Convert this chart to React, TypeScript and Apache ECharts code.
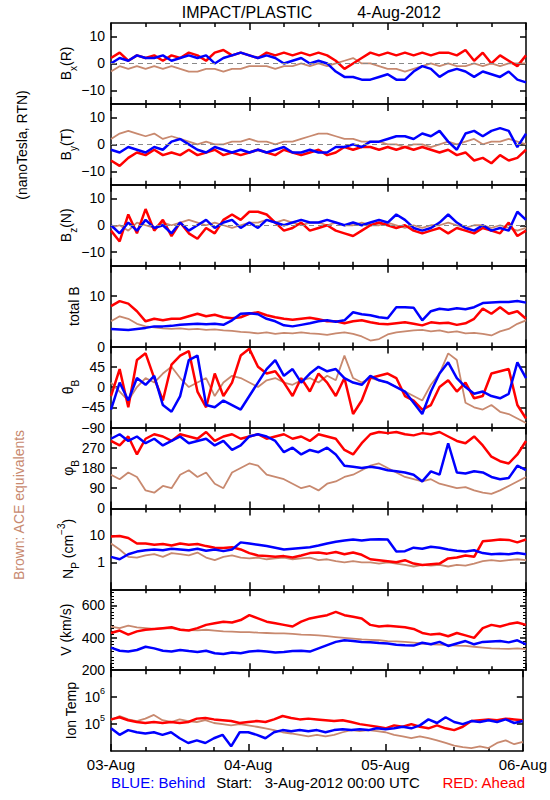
import React, { useEffect, useRef } from "react";
import * as echarts from "echarts";

// ---------- DATA ----------
const HOURS = [0, 1.5, 3, 4.5, 6, 7.5, 9, 10.5, 12, 13.5, 15, 16.5, 18, 19.5, 21, 22.5, 24, 25.5, 27, 28.5, 30, 31.5, 33, 34.5, 36, 37.5, 39, 40.5, 42, 43.5, 45, 46.5, 48, 49.5, 51, 52.5, 54, 55.5, 57, 58.5, 60, 61.5, 63, 64.5, 66, 67.5, 69, 70.5, 72];
const DAY_TICKS = [0, 24, 48, 72];
const DAY_LABELS = ["03-Aug", "04-Aug", "05-Aug", "06-Aug"];

const BX_RED = [2, 4, 1, 3, 2, 3, 1, 3, 2, 4, 3, 1, 4, 5, 3, 4, 3, 2, 4, 3, 4, 3, 4, 3, 4, 3, 1, -2, 0, 2, 4, 3, 4, 3, 4, 3, 4, 3, 4, 4, 3, 5, 1, 4, 0, 3, 1, -1, 3];
const BX_BLUE = [0, 2, 1, 3, 2, 2, 3, 1, 2, 3, 2, 3, 0, 2, 3, 4, 3, 2, 3, 2, 0, 1, 2, 0, 1, 0, -3, -5, -5, -6, -6, -5, -4, -6, -6, -3, -1, -2, -5, -3, -2, -3, -5, -3, -4, -5, -3, -6, -7];
const BX_BROWN = [-3, -1, -2, -1, -2, -1, -2, -1, -2, -3, -3, -2, -2, -3, -2, -2, -1, -1, -1, -2, -1, -1, 0, -1, 0, -1, 0, 1, 2, 0, 0, -1, -2, -2, -3, -2, -1, 0, -1, 0, -1, -1, 0, -1, 0, -1, 0, 0, 0];

const BY_RED = [-6, -8, -5, -3, -4, -2, -4, -3, -4, -2, -4, -3, -2, -4, -3, -4, -3, -2, -3, -4, -2, -3, -4, -3, -2, -4, -3, -1, -2, -1, -1, -2, -1, -2, -1, -2, -1, -2, -3, -2, -4, -3, -6, -5, -7, -4, -6, -5, -2];
const BY_BLUE = [-2, -3, -1, -2, -3, -1, -2, 1, 2, 0, -2, -3, -1, -2, -3, -2, -3, -2, -3, -2, -1, -3, -3, -2, -3, -3, -1, -1, 0, -1, 1, 1, 2, 3, 3, 2, 4, 3, 5, 1, -2, 4, 5, 3, 5, 6, 5, -1, 4];
const BY_BROWN = [2, 4, 5, 4, 3, 4, 2, 3, 2, 1, 0, 1, 0, 0, 1, 1, 2, 1, 1, 0, 1, 1, 2, 3, 4, 4, 3, 2, 2, 1, 1, 1, 0, 0, -1, 0, 0, -1, 0, 1, 0, 1, 2, 0, 1, 1, 2, 1, 0];

const BZ_RED = [-2, -6, 4, -3, 6, -2, 2, -4, 1, -3, -5, -1, -3, 2, 4, 2, 5, 5, 4, 1, -2, -1, 1, -2, -1, 0, -2, -3, -4, -2, 0, 1, 0, -1, 0, -2, -3, -2, -1, -3, -1, -2, -3, -1, -2, -3, 1, -4, -2];
const BZ_BLUE = [0, -3, 1, -2, 2, -1, 0, -3, 1, -2, 0, 2, -1, 1, 2, -1, 1, -1, 2, 1, 0, 1, 2, 1, 1, 2, 1, 0, 1, 0, 1, 2, 1, 4, 2, -1, -2, -1, 1, 4, 1, -1, -2, 0, -2, -1, -2, 5, 2];
const BZ_BROWN = [-1, 0, -2, 1, 0, -1, 1, 0, 1, 2, 1, 0, 1, 0, -1, 0, 1, 1, 2, 1, 2, 1, 0, 1, 1, 0, 1, 0, 0, 1, 0, 0, 1, 0, -1, 0, -1, 0, 0, 1, 0, -1, 0, 0, -1, 0, -1, -2, -1];

const BT_RED = [8, 9, 8.5, 7, 5, 5.5, 5.2, 5.5, 5.5, 6, 6.5, 6, 6.3, 5.8, 5.6, 5.8, 6.5, 6.8, 6.2, 5.8, 5.5, 5.3, 5.5, 5.7, 5.4, 5, 5, 4.6, 5, 5.2, 4.8, 4.5, 4.4, 4.6, 4.8, 4.5, 4.2, 4.8, 4.6, 4.7, 4.3, 4.6, 5.5, 7.5, 6.5, 7.8, 6.5, 7, 5.5];
const BT_BLUE = [3.5, 3.4, 3.3, 3.5, 3.7, 4, 4, 4.1, 4.3, 4.4, 4.5, 4.4, 4.5, 4.3, 5.2, 6.5, 6.6, 6.4, 5.5, 5, 4.2, 4, 4.3, 4.6, 5, 5.2, 4.9, 5.2, 6.8, 6.4, 6.2, 5.8, 5.6, 7.8, 7.8, 7.7, 5.2, 7, 7.5, 7.3, 7.6, 7.4, 7.8, 8.6, 8.7, 8.8, 8.8, 9, 8.7];
const BT_BROWN = [5, 6, 5.5, 4.5, 4, 3.8, 3.6, 3.5, 3.6, 3.4, 3.5, 3.3, 3.4, 3.2, 3.1, 2.9, 2.8, 2.6, 2.8, 2.5, 2.7, 2.6, 2.8, 2.6, 2.5, 2.3, 2.6, 2.8, 2.5, 2, 1.2, 1.5, 2.4, 2.8, 3, 3.2, 3.3, 3, 3.2, 2.8, 3, 2.6, 2.7, 2.5, 2.2, 3, 3.5, 4.5, 5.2];

const TH_RED = [-20, 40, -45, 60, 75, 20, -30, 50, 70, 80, -10, -45, 30, -20, 10, 70, 85, 45, 30, 35, 10, -20, 20, -10, 30, 10, -20, 20, -60, -30, 20, 25, 30, 20, -20, -30, -50, -40, 0, 15, -10, 10, -25, -20, 30, 35, 40, -40, -70];
const TH_BLUE = [-50, 10, -30, 20, 5, 25, -40, -55, -20, 60, 70, -40, -45, -30, -40, -50, -20, 10, 40, 60, 25, 40, 10, 30, 45, 35, 40, 20, 10, 5, 25, 15, 10, 0, -10, -35, -60, -10, 30, 55, 20, 0, -15, -10, -20, -25, -15, 55, 20];
const TH_BROWN = [10, -10, -30, 0, 20, 10, 30, 45, 20, 0, 10, 20, -20, 10, 25, 20, 10, 0, 15, 20, 10, 5, 15, 20, 10, 25, 15, 70, 20, 10, 20, 15, 10, 0, -10, -20, -30, 5, 30, 75, 60, -35, -45, -50, -40, -55, -60, -70, -80];

const PH_RED = [300, 280, 320, 240, 310, 330, 320, 300, 330, 320, 310, 340, 300, 320, 330, 310, 320, 330, 310, 320, 330, 310, 320, 300, 330, 320, 310, 260, 240, 290, 330, 340, 335, 340, 330, 325, 335, 330, 340, 320, 300, 290, 320, 280, 230, 210, 200, 240, 300];
const PH_BLUE = [310, 330, 300, 320, 290, 310, 280, 300, 320, 290, 300, 310, 280, 300, 260, 280, 320, 330, 320, 300, 250, 270, 240, 260, 250, 270, 240, 190, 185, 180, 185, 180, 170, 165, 160, 150, 120, 165, 150, 290, 160, 155, 165, 160, 140, 130, 135, 190, 170];
const PH_BROWN = [150, 130, 160, 140, 80, 70, 100, 90, 150, 170, 140, 160, 110, 90, 160, 180, 200, 190, 150, 140, 130, 110, 90, 100, 80, 110, 120, 140, 150, 170, 190, 200, 180, 160, 140, 130, 120, 130, 110, 100, 90, 95, 80, 70, 65, 80, 100, 120, 140];

const NP_RED = [9, 9.5, 8, 5, 5, 4.5, 4.8, 4.2, 5, 4.5, 4.8, 4, 3.5, 3.4, 3.6, 3, 2.2, 1.8, 1.7, 1.6, 1.7, 1.5, 1.8, 2.2, 2.3, 2.1, 2.4, 2, 2.3, 1.9, 1.3, 1.2, 1.1, 1, 1.2, 0.9, 0.8, 0.85, 0.9, 1.4, 1.5, 1.8, 1.6, 6, 6.5, 7, 6.8, 5.5, 7];
const NP_BLUE = [1.6, 1.3, 2, 2.5, 2.8, 3, 2.8, 3.2, 3, 2.8, 3.2, 2.7, 3, 2.6, 3, 5.5, 5, 4.5, 4, 3.5, 3, 3.2, 3.4, 3.6, 4.2, 5, 5.8, 6.5, 7, 6.5, 7, 7.2, 7, 2.5, 2.6, 3.5, 3.2, 3.8, 3.5, 3, 2.7, 2.5, 2.8, 2.2, 2, 2.1, 2, 2.2, 2];
const NP_BROWN = [5, 3, 1.6, 1.5, 1.8, 2, 1.6, 2.2, 2, 1.8, 2.3, 1.5, 1.2, 1.6, 1.8, 1.5, 1.4, 1.5, 1.3, 1.4, 1.5, 1.3, 1.4, 1.5, 1.2, 1.3, 1.1, 1, 1.1, 1, 1, 0.9, 1, 0.9, 0.8, 0.7, 0.8, 0.75, 0.8, 0.7, 0.8, 0.75, 0.9, 1.1, 1.2, 1.1, 1.2, 1.3, 1.2];

const V_RED = [430, 445, 420, 440, 450, 455, 460, 465, 450, 445, 460, 480, 490, 500, 495, 510, 540, 520, 500, 490, 480, 470, 500, 520, 530, 540, 560, 540, 530, 520, 480, 470, 475, 470, 465, 455, 430, 420, 425, 410, 430, 415, 400, 460, 480, 470, 485, 495, 480];
const V_BLUE = [340, 320, 315, 325, 345, 335, 320, 315, 325, 318, 312, 320, 305, 300, 310, 305, 315, 320, 315, 310, 312, 318, 320, 315, 335, 355, 375, 385, 380, 375, 372, 368, 365, 358, 354, 352, 370, 360, 375, 350, 365, 380, 360, 375, 378, 380, 372, 385, 360];
const V_BROWN = [470, 460, 475, 465, 460, 455, 458, 460, 452, 448, 446, 450, 445, 440, 438, 435, 435, 432, 430, 428, 428, 425, 420, 418, 415, 410, 405, 400, 395, 390, 388, 385, 380, 378, 375, 370, 365, 360, 358, 355, 352, 350, 345, 340, 335, 333, 332, 335, 330];

const T_RED = [1.5e5, 1.8e5, 1.4e5, 1.2e5, 1.1e5, 1.2e5, 1.1e5, 1.2e5, 1.1e5, 1.2e5, 1.6e5, 1.7e5, 1.5e5, 1.4e5, 1.3e5, 1.1e5, 1.2e5, 1.3e5, 1.2e5, 1.5e5, 2e5, 1.7e5, 1.5e5, 1.6e5, 1.5e5, 1.4e5, 1.3e5, 1.4e5, 1.2e5, 1e5, 9e4, 8e4, 7e4, 9e4, 8e4, 1e5, 8e4, 7e4, 9e4, 7e4, 6e4, 8e4, 1.3e5, 1.4e5, 1.5e5, 1.4e5, 1.6e5, 1.5e5, 1.4e5];
const T_BLUE = [7e4, 4e4, 6e4, 5e4, 4.5e4, 5e4, 4e4, 5e4, 3e4, 2e4, 2.5e4, 2e4, 3e4, 4e4, 1.5e4, 5e4, 5e4, 4e4, 3e4, 5e4, 6e4, 5.5e4, 6e4, 5.5e4, 6e4, 5e4, 6e4, 6.5e4, 6e4, 6.5e4, 6e4, 7e4, 6.5e4, 7e4, 8e4, 7e4, 9e4, 1.5e5, 1.1e5, 1.8e5, 1.2e5, 1e5, 1.3e5, 1.2e5, 1.4e5, 1.2e5, 1.5e5, 1.1e5, 1.3e5];
const T_BROWN = [1.4e5, 2e5, 1.5e5, 1.3e5, 1.6e5, 2.2e5, 1.4e5, 1.2e5, 1.5e5, 1.3e5, 1.2e5, 1.4e5, 1.1e5, 1e5, 9e4, 1e5, 9e4, 8e4, 7e4, 6e4, 5e4, 4.5e4, 4e4, 3.5e4, 4e4, 3.5e4, 4e4, 5e4, 6e4, 5.5e4, 6e4, 5.5e4, 5e4, 4e4, 3.5e4, 3e4, 3.5e4, 3e4, 2.5e4, 2e4, 1.6e4, 1.4e4, 1.3e4, 1.5e4, 1.3e4, 2e4, 2.5e4, 1.8e4, 2.2e4];

// ---------- STYLE ----------
const FONT = "'Liberation Sans', Arial, sans-serif";
const RED = "#ff0000";
const BLUE = "#0000ff";
const BROWN = "#c8896f";
const GRID_LEFT = 111;
const GRID_RIGHT = 24;
const GRID_TOP = 23;
const PANEL_H = 80.9;

type Panel = {
  red: number[]; blue: number[]; brown: number[];
  log?: boolean; min: number; max: number;
  labels: number[]; ticks: number[]; zero?: boolean; interval?: number; minor?: boolean;
  name: string; nameX: number; sup?: boolean;
};

const PANELS: Panel[] = [
  { red: BX_RED, blue: BX_BLUE, brown: BX_BROWN, min: -15, max: 15, labels: [-10, 0, 10], ticks: [-10, 0, 10], zero: true, name: "{n|B}{s|x}{n|(R)}", nameX: 66 },
  { red: BY_RED, blue: BY_BLUE, brown: BY_BROWN, min: -15, max: 15, labels: [-10, 0, 10], ticks: [-10, 0, 10], zero: true, name: "{n|B}{s|y}{n|(T)}", nameX: 66 },
  { red: BZ_RED, blue: BZ_BLUE, brown: BZ_BROWN, min: -15, max: 15, labels: [-10, 0, 10], ticks: [-10, 0, 10], zero: true, name: "{n|B}{s|z}{n|(N)}", nameX: 66 },
  { red: BT_RED, blue: BT_BLUE, brown: BT_BROWN, min: 0, max: 16, labels: [0, 10], ticks: [10], name: "{n|total B}", nameX: 74 },
  { red: TH_RED, blue: TH_BLUE, brown: TH_BROWN, min: -90, max: 90, labels: [-90, -45, 0, 45], ticks: [-45, 0, 45], name: "{n|θ}{s|B}", nameX: 68 },
  { red: PH_RED, blue: PH_BLUE, brown: PH_BROWN, min: 0, max: 360, labels: [0, 90, 180, 270], ticks: [90, 180, 270], name: "{n|φ}{s|B}", nameX: 68 },
  { red: NP_RED, blue: NP_BLUE, brown: NP_BROWN, log: true, min: 0.1, max: 100, labels: [1, 10], ticks: [1, 10], name: "{n|N}{s|P}{n| (cm}{p|−3}{n|)}", nameX: 68 },
  { red: V_RED, blue: V_BLUE, brown: V_BROWN, min: 200, max: 700, interval: 100, minor: true, labels: [200, 400, 600], ticks: [400, 600], name: "{n|V (km/s)}", nameX: 66 },
  { red: T_RED, blue: T_BLUE, brown: T_BROWN, log: true, min: 1e4, max: 1e7, labels: [1e5, 1e6], ticks: [1e5, 1e6], name: "{n|Ion Temp}", nameX: 71, sup: true },
];

const RICH = {
  n: { fontSize: 14, lineHeight: 24, verticalAlign: "middle", fontFamily: FONT, color: "#000" },
  s: { fontSize: 10, verticalAlign: "bottom", fontFamily: FONT, color: "#000" },
  p: { fontSize: 10, verticalAlign: "top", fontFamily: FONT, color: "#000" },
};

const pairs = (vals: number[]) => HOURS.map((h, i) => [h, vals[i]]);

function fmtY(v: number, sup?: boolean) {
  if (sup) {
    const e = Math.round(Math.log10(v));
    return "{m|10}{q|" + e + "}";
  }
  return v < 0 ? "\u2212" + Math.abs(v) : String(v);
}

function buildOption() {
  const last = PANELS.length - 1;
  const grids: any[] = [];
  const xAxes: any[] = [];
  const yAxes: any[] = [];
  const series: any[] = [];
  const graphics: any[] = [];
  const axisLine = { show: true, onZero: false, lineStyle: { color: "#000", width: 1.5 } };

  PANELS.forEach((p, i) => {
    const top = GRID_TOP + i * PANEL_H;
    grids.push({ left: GRID_LEFT, right: GRID_RIGHT, top, height: PANEL_H });
    ["bottom", "top"].forEach((pos) => {
      xAxes.push({
        type: "value", gridIndex: i, position: pos, min: 0, max: 72, interval: 24,
        axisLine,
        axisTick: { show: true, inside: true, length: 7, lineStyle: { color: "#000", width: 1.5 } },
        minorTick: { show: true, splitNumber: 4, length: 4, lineStyle: { color: "#000", width: 1.5 } },
        splitLine: { show: false }, minorSplitLine: { show: false },
        axisLabel: {
          show: pos === "bottom" && i === last, margin: 6, fontSize: 15, fontFamily: FONT, color: "#000",
          formatter: (v: number) => DAY_LABELS[DAY_TICKS.indexOf(v)] ?? "",
        },
      });
    });
    ["left", "right"].forEach((pos) => {
      const y: any = {
        type: p.log ? "log" : "value", logBase: 10, gridIndex: i, position: pos, min: p.min, max: p.max,
        axisLine,
        axisTick: { show: true, inside: true, length: 6, customValues: p.ticks, lineStyle: { color: "#000", width: 1.5 } },
        splitLine: { show: false },
        axisLabel: {
          show: pos === "left", margin: 6, fontSize: 14, fontFamily: FONT, color: "#000",
          customValues: p.labels,
          formatter: (v: number) => fmtY(v, p.sup),
          rich: {
            m: { fontSize: 14, lineHeight: 22, fontFamily: FONT, color: "#000" },
            q: { fontSize: 9, verticalAlign: "top", fontFamily: FONT, color: "#000" },
          },
        },
      };
      if (p.interval) y.interval = p.interval;
      if (p.minor) {
        y.minorTick = { show: true, splitNumber: 5, length: 3, lineStyle: { color: "#000", width: 1 } };
        y.minorSplitLine = { show: false };
      }
      yAxes.push(y);
    });

    const base = { type: "line", xAxisIndex: 2 * i, yAxisIndex: 2 * i, showSymbol: false, symbol: "none", silent: true };
    series.push({
      ...base, name: "ACE", data: pairs(p.brown), z: 2, lineStyle: { color: BROWN, width: 1.8 },
      markLine: p.zero ? {
        silent: true, symbol: "none", label: { show: false },
        lineStyle: { color: "#8a8a8a", type: [5, 4], width: 1 }, data: [{ yAxis: 0 }],
      } : undefined,
    });
    series.push({ ...base, name: "Ahead", data: pairs(p.red), z: 3, lineStyle: { color: RED, width: 2.5 } });
    series.push({ ...base, name: "Behind", data: pairs(p.blue), z: 4, lineStyle: { color: BLUE, width: 2.5 } });

    graphics.push({
      type: "text", x: p.nameX, y: top + PANEL_H / 2, rotation: Math.PI / 2,
      style: { text: p.name, rich: RICH, align: "center", verticalAlign: "middle", fill: "#000", fontFamily: FONT, fontSize: 14 },
    });
  });

  graphics.push(
    { type: "text", x: 247, y: 12, style: { text: "IMPACT/PLASTIC", align: "center", verticalAlign: "middle", fontSize: 16, fontFamily: FONT, fill: "#000" } },
    { type: "text", x: 399, y: 12, style: { text: "4-Aug-2012", align: "center", verticalAlign: "middle", fontSize: 16, fontFamily: FONT, fill: "#000" } },
    { type: "text", x: 22, y: 145, rotation: Math.PI / 2, style: { text: "(nanoTesla, RTN)", align: "center", verticalAlign: "middle", fontSize: 14, fontFamily: FONT, fill: "#000" } },
    { type: "text", x: 19, y: 505, rotation: Math.PI / 2, style: { text: "Brown: ACE equivalents", align: "center", verticalAlign: "middle", fontSize: 14, fontFamily: FONT, fill: BROWN } },
    { type: "text", x: 111, y: 782, style: { text: "BLUE: Behind", align: "left", verticalAlign: "middle", fontSize: 15, fontFamily: FONT, fill: BLUE } },
    { type: "text", x: 318, y: 782, style: { text: "Start:   3-Aug-2012 00:00 UTC", align: "center", verticalAlign: "middle", fontSize: 15, fontFamily: FONT, fill: "#000" } },
    { type: "text", x: 525, y: 782, style: { text: "RED: Ahead", align: "right", verticalAlign: "middle", fontSize: 15, fontFamily: FONT, fill: RED } },
  );

  return {
    animation: false,
    backgroundColor: "#fff",
    grid: grids,
    xAxis: xAxes,
    yAxis: yAxes,
    series,
    graphic: graphics,
  };
}

export default function App() {
  const ref = useRef<HTMLDivElement>(null);
  useEffect(() => {
    const chart = echarts.init(ref.current!, null, { renderer: "svg" });
    chart.setOption(buildOption() as any);
    return () => chart.dispose();
  }, []);
  return (
    <div
      ref={ref}
      style={{ position: "fixed", left: 0, top: 0, width: 550, height: 800, background: "#fff" }}
    />
  );
}
